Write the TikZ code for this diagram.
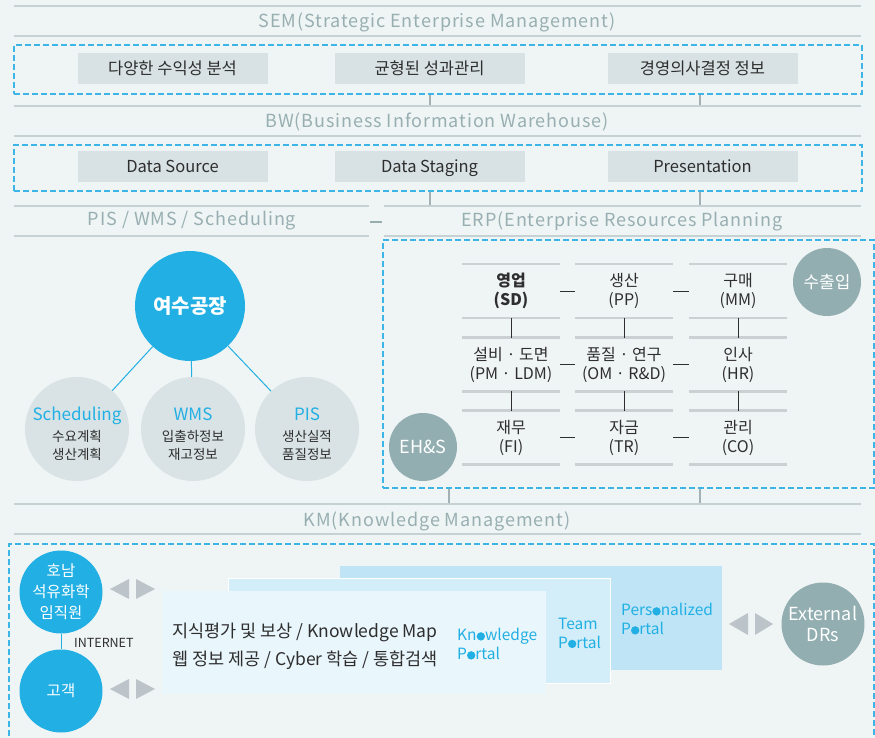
\documentclass[tikz,border=0pt]{standalone}
\usepackage{fontspec}
\setmainfont{Noto Sans CJK KR}
\usetikzlibrary{positioning}
\definecolor{bgcol}{HTML}{EFF4F5}
\definecolor{rulecol}{HTML}{C6D1D4}
\definecolor{headcol}{HTML}{98AFB2}
\definecolor{dashcol}{HTML}{3DB5E7}
\definecolor{boxcol}{HTML}{D8E2E5}
\definecolor{skyblue}{HTML}{22B0E4}
\definecolor{tealgray}{HTML}{92AEB1}
\definecolor{palegray}{HTML}{D9E2E5}
\definecolor{gridcol}{HTML}{CBD0D3}
\definecolor{vlinkcol}{HTML}{A3B1B4}
\definecolor{tricol}{HTML}{BDC4C9}
\definecolor{portalA}{HTML}{BEE4F6}
\definecolor{portalB}{HTML}{D3EDF9}
\definecolor{portalC}{HTML}{E9F6FC}
\definecolor{inkcol}{HTML}{2E2E2E}
\newcommand{\fsz}[2]{\fontsize{#1}{#2}\selectfont}
\newcommand{\pdot}{\tikz[baseline=0pt]\fill[skyblue] (0,0.27em) circle (0.27em);}
\tikzset{
  rulebar/.style={draw=rulecol, line width=2.8pt},
  heading/.style={text=headcol, inner sep=0pt, font=\fsz{18}{21}\addfontfeatures{LetterSpace=5}},
  zone/.style={draw=dashcol, line width=1.1pt, dash pattern=on 6pt off 3pt},
  tagbox/.style={fill=boxcol, minimum width=190pt, minimum height=31pt, inner sep=0pt, text height=14pt, text depth=2pt, text=inkcol, font=\fsz{16.5}{19}},
  vlink/.style={draw=vlinkcol, line width=2pt},
  hub/.style={circle, fill=skyblue, minimum size=110pt, inner sep=0pt, text=white, font=\bfseries\fsz{20}{24}},
  leaf/.style={circle, fill=palegray, minimum size=104pt, inner sep=0pt},
  leaftext/.style={align=center, text=inkcol, inner sep=0pt, font=\fsz{13.5}{18}},
  spoke/.style={draw=skyblue, line width=1pt},
  cell/.style={minimum width=98pt, minimum height=53.5pt, inner sep=0pt, align=center, text=inkcol, font=\fsz{16}{19}},
  gridrule/.style={draw=gridcol, line width=2.6pt},
  cellink/.style={draw=inkcol, line width=0.9pt},
  badge/.style={circle, fill=tealgray, inner sep=0pt, text=white, align=center},
  person/.style={circle, fill=skyblue, minimum size=83pt, inner sep=0pt, text=white, align=center, font=\fsz{15.5}{21}},
  portaltext/.style={text=skyblue, align=left, inner sep=0pt, anchor=west, font=\fsz{15.5}{19}},
  paneltext/.style={text=inkcol, inner sep=0pt, anchor=west, font=\fsz{17.5}{20}},
}
\begin{document}
\begin{tikzpicture}[x=1pt,y=-1pt]
\pgfmathsetmacro{\colA}{511}
\pgfmathsetmacro{\colB}{624}
\pgfmathsetmacro{\colC}{738}
\pgfmathsetmacro{\rowA}{291}
\pgfmathsetmacro{\rowB}{364.5}
\pgfmathsetmacro{\rowC}{437.5}
\fill[bgcol] (0,0) rectangle (875,738);
\useasboundingbox (0,0) rectangle (875,738);
\clip (0,0) rectangle (875,738);
%
\draw[rulebar] (14,6) -- (861,6);
\node[heading] (semhead) at (437,22) {SEM(Strategic Enterprise Management)};
\draw[rulebar] (14,36) -- (861,36);
\node[zone, minimum width=848pt, minimum height=49pt] (semzone) at (438,69.5) {};
\node[tagbox] (profit) at (172.5,68.5) {다양한 수익성 분석};
\node[tagbox] (balance) at (429.5,68.5) {균형된 성과관리};
\node[tagbox] (decision) at (702.5,68.5) {경영의사결정 정보};
\draw[vlink] (semzone.south -| 430,0) --++ (0,12);
\draw[vlink] (semzone.south -| 700,0) --++ (0,12);
%
\draw[rulebar] (14,106) -- (861,106);
\node[heading] (bwhead) at (437,122) {BW(Business Information Warehouse)};
\draw[rulebar] (14,136) -- (861,136);
\node[zone, minimum width=848pt, minimum height=46pt] (bwzone) at (438,168) {};
\node[tagbox] (source) at (172.5,166.5) {Data Source};
\node[tagbox] (staging) at (429.5,166.5) {Data Staging};
\node[tagbox] (present) at (702.5,166.5) {Presentation};
\draw[vlink] (bwzone.south -| 430,0) --++ (0,15);
\draw[vlink] (bwzone.south -| 700,0) --++ (0,15);
%
\draw[rulebar] (14,206) -- (369,206);
\draw[rulebar] (384,206) -- (861,206);
\node[heading] (pishead) at (192,221) {PIS / WMS / Scheduling};
\node[text=headcol, inner sep=0pt] (join) at (376,222) {\rule{12pt}{1.6pt}};
\node[heading] (erphead) at (622,221) {ERP(Enterprise Resources Planning};
\draw[rulebar] (14,236) -- (369,236);
\draw[rulebar] (384,236) -- (861,236);
%
\node[hub] (yeosu) at (190,306) {여수공장};
\node[leaf] (sched) at (77,429) {};
\node[leaf] (wms) at (193,429) {};
\node[leaf] (pis) at (307,429) {};
\draw[spoke] (yeosu) -- (sched);
\draw[spoke] (yeosu) -- (wms);
\draw[spoke] (yeosu) -- (pis);
\node[leaftext] (schedtxt) at ([yshift=-5pt]sched.center) {{\color{skyblue}\fsz{17}{20}Scheduling}\\[3pt]수요계획\\생산계획};
\node[leaftext] (wmstxt) at ([yshift=-5pt]wms.center) {{\color{skyblue}\fsz{17}{20}WMS}\\[3pt]입출하정보\\재고정보};
\node[leaftext] (pistxt) at ([yshift=-5pt]pis.center) {{\color{skyblue}\fsz{17}{20}PIS}\\[3pt]생산실적\\품질정보};
%
\node[zone, minimum width=491pt, minimum height=248pt] (erpzone) at (628.5,364) {};
\node[cell, font=\bfseries\fsz{16}{19}] (sd) at (\colA,\rowA) {영업\\(SD)};
\node[cell] (pp) at (\colB,\rowA) {생산\\(PP)};
\node[cell] (mm) at (\colC,\rowA) {구매\\(MM)};
\node[cell] (pm) at (\colA,\rowB) {설비 · 도면\\(PM · LDM)};
\node[cell] (qm) at (\colB,\rowB) {품질 · 연구\\(OM · R\&D)};
\node[cell] (hr) at (\colC,\rowB) {인사\\(HR)};
\node[cell] (fi) at (\colA,\rowC) {재무\\(FI)};
\node[cell] (tr) at (\colB,\rowC) {자금\\(TR)};
\node[cell] (co) at (\colC,\rowC) {관리\\(CO)};
\foreach \c in {sd,pp,mm,pm,qm,hr,fi,tr,co}
  \draw[gridrule] (\c.north west) -- (\c.north east) (\c.south west) -- (\c.south east);
\draw[cellink] (sd) -- (pp);
\draw[cellink] (pp) -- (mm);
\draw[cellink] (pm) -- (qm);
\draw[cellink] (qm) -- (hr);
\draw[cellink] (fi) -- (tr);
\draw[cellink] (tr) -- (co);
\draw[cellink] (sd) -- (pm);
\draw[cellink] (pm) -- (fi);
\draw[cellink] (pp) -- (qm);
\draw[cellink] (qm) -- (tr);
\draw[cellink] (mm) -- (hr);
\draw[cellink] (hr) -- (co);
\node[badge, minimum size=68pt, font=\fsz{17}{19}] (trade) at (827,282) {수출입};
\node[badge, minimum size=68pt, font=\fsz{18}{19}] (ehs) at (423,447) {EH\&S};
\draw[vlink] (erpzone.south -| 449,0) --++ (0,16);
\draw[vlink] (erpzone.south -| 700,0) --++ (0,16);
%
\draw[rulebar] (14,504) -- (861,504);
\node[heading] (kmhead) at (437,521) {KM(Knowledge Management)};
\draw[rulebar] (14,534) -- (861,534);
\draw[zone] (9,745) -- (9,544) -- (874,544) -- (874,745);
%
\fill[portalA] (340,566) rectangle (722,670);
\fill[portalB] (228,578) rectangle (610,683);
\draw[white, line width=0.8pt] (228,578) rectangle (610,683);
\fill[portalC] (162,591) rectangle (546,694);
\node[paneltext] (kmline1) at (172,632) {지식평가 및 보상 / Knowledge Map};
\node[paneltext] (kmline2) at (172,660) {웹 정보 제공 / Cyber 학습 / 통합검색};
\node[portaltext] (kportal) at (457,644) {Kn\pdot wledge\\P\pdot rtal};
\node[portaltext] (tportal) at (558,633) {Team\\P\pdot rtal};
\node[portaltext] (pportal) at (621,619) {Pers\pdot nalized\\P\pdot rtal};
%
\node[person] (staff) at (61,592) {호남\\석유화학\\임직원};
\node[person] (client) at (61,691) {고객};
\draw[spoke] (staff) -- (client);
\node[text=inkcol, inner sep=0pt, anchor=west, font=\fsz{12.5}{14}] (net) at (74,643) {INTERNET};
\foreach \y in {589,689} {
  \fill[tricol] (110,\y) -- (129,\y-10) -- (129,\y+10) -- cycle;
  \fill[tricol] (155,\y) -- (136,\y-10) -- (136,\y+10) -- cycle;
}
\fill[tricol] (729,624) -- (748,613) -- (748,635) -- cycle;
\fill[tricol] (773,624) -- (755,613) -- (755,635) -- cycle;
\node[badge, minimum size=83pt, font=\fsz{18}{21}] (extdr) at (823,624) {External\\DRs};
\end{tikzpicture}
\end{document}
